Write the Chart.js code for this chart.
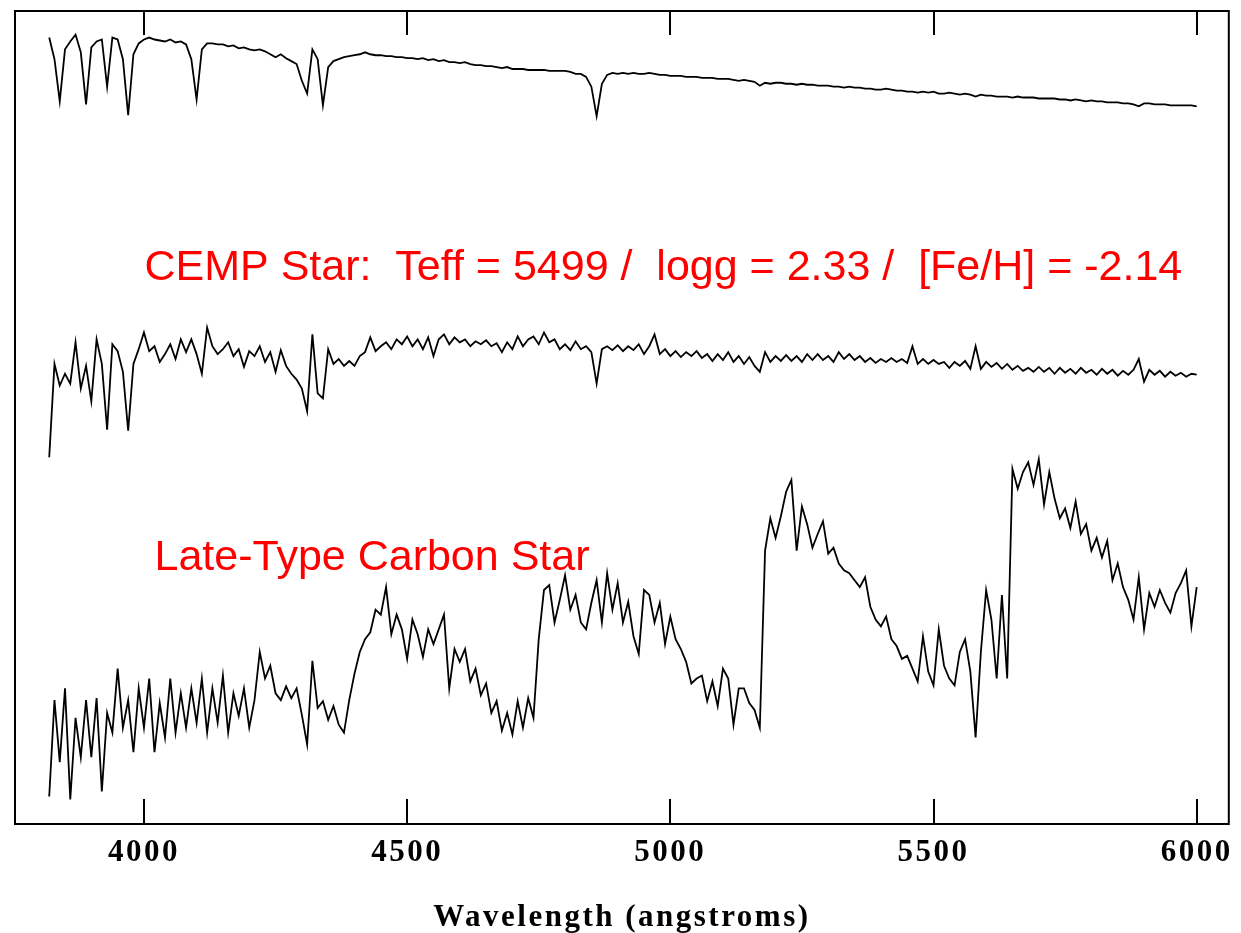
<!DOCTYPE html>
<html>
<head>
<meta charset="utf-8">
<script src="https://cdn.jsdelivr.net/npm/chart.js@4.4.1/dist/chart.umd.min.js"></script>
<style>
html,body{margin:0;padding:0;background:#fff;}
#wrap{width:1241px;height:933px;}
</style>
</head>
<body>
<div id="wrap"><canvas id="c" width="1241" height="933"></canvas></div>
<script>
// Wavelength grid of the spectra (Å): start value and sampling step
const lambdaStart = 3820;
const lambdaStep = 10;

// X axis
const xMin = 3755, xMax = 6061;
const tickValues = [4000, 4500, 5000, 5500, 6000];
const tickLabels = ['4000', '4500', '5000', '5500', '6000'];
const xTitle = 'Wavelength (angstroms)';

// Y axis (relative flux + vertical offset, arbitrary units)
const yMin = 0, yMax = 827;

// Top spectrum (hot comparison star)
const hotStar = [
800,778,735,788,796,803,785,732,790,796,
798,750,800,798,778,721,783,794,798,800,
798,797,796,798,795,796,793,778,737,788,
794,794,793,793,791,792,789,790,788,787,
788,786,783,780,783,779,776,773,756,743,
788,778,731,770,776,778,780,781,782,783,
785,783,782,782,781,781,780,780,779,779,
778,779,777,778,776,777,775,775,774,775,
773,772,772,771,771,770,769,770,768,768,
768,767,767,767,767,766,766,766,766,765,
763,763,760,750,720,753,762,764,763,764,
763,764,763,763,764,763,762,762,761,761,
761,760,760,760,759,759,759,758,758,758,
757,756,757,756,755,751,754,753,754,754,
753,753,752,753,752,752,751,751,751,750,
750,749,750,749,749,748,748,747,747,748,
747,746,746,745,745,744,745,744,745,743,
743,744,743,742,743,742,740,742,741,741,
740,740,740,739,740,739,739,739,738,738,
738,738,737,737,736,737,736,735,736,735,
735,734,734,734,733,733,732,730,733,733,
732,732,732,731,731,731,731,731,730
];

// Middle spectrum (CEMP star)
const cempStar = [
373,468,446,458,448,490,443,466,430,493,
468,401,488,481,460,400,468,483,500,481,
486,470,478,488,473,493,480,493,478,458,
505,486,478,483,490,476,483,465,481,476,
486,470,480,460,482,466,458,452,443,420,
498,438,433,483,468,473,466,471,466,476,
480,495,481,486,490,483,493,488,496,486,
493,483,495,476,493,498,488,495,490,493,
486,491,488,492,486,489,480,490,483,496,
486,493,496,488,500,490,493,483,488,482,
491,483,486,480,448,483,486,482,487,481,
486,482,488,478,486,498,478,483,476,481,
475,480,476,481,474,478,471,478,472,480,
470,476,468,475,466,460,480,470,476,471,
477,471,476,470,478,472,478,472,476,470,
480,473,478,472,476,470,474,469,473,470,
474,470,473,469,486,468,473,468,472,468,
470,464,470,466,471,463,486,463,470,465,
469,463,468,462,466,461,464,460,465,460,
464,458,464,459,463,458,464,459,462,457,
463,458,462,456,461,457,462,473,450,462,
457,461,455,460,456,459,455,458,457
];

// Bottom spectrum (late-type carbon star)
const carbonStar = [
28,126,63,138,25,108,68,126,68,128,
33,113,93,158,98,126,73,138,98,148,
73,123,88,148,93,133,98,138,103,148,
93,138,103,151,93,133,110,138,98,126,
175,148,161,133,126,140,128,138,111,81,
166,118,125,106,120,101,93,126,153,175,
188,195,218,213,241,193,213,198,168,208,
193,170,198,183,198,213,138,178,165,178,
145,158,131,143,113,125,95,113,91,125,
98,128,108,188,238,243,205,228,253,218,
233,205,198,225,248,205,255,218,245,205,
226,191,173,238,233,205,225,183,211,188,
178,165,143,148,151,125,145,120,158,148,
101,138,138,123,116,98,278,311,291,313,
338,350,278,323,305,281,295,308,275,281,
265,258,255,248,241,251,221,208,201,211,
188,181,168,171,158,145,191,155,141,198,
161,148,141,175,188,155,88,175,238,208,
148,233,148,361,341,358,368,345,371,325,
358,331,311,321,301,328,295,305,278,291,
271,288,248,265,241,228,208,251,198,235,
221,238,225,215,235,245,258,201,241
];

// Red annotations, anchored in data coordinates (wavelength, flux)
const annotationTexts = ['CEMP Star:  Teff = 5499 /  logg = 2.33 /  [Fe/H] = -2.14', 'Late-Type Carbon Star'];
const annotationX = [4001, 4020];
const annotationY = [553, 258];

function toPoints(arr) {
  return arr.map((v, i) => ({ x: lambdaStart + i * lambdaStep, y: v }));
}

const lineStyle = { borderColor: '#000', borderWidth: 1.8, pointRadius: 0, tension: 0, fill: false };

const spacingPlugin = {
  id: 'spacing',
  beforeDraw(chart) { chart.ctx.letterSpacing = '2.5px'; },
  beforeDatasetsDraw(chart) { chart.ctx.letterSpacing = '0px'; }
};

const framePlugin = {
  id: 'frame',
  afterDatasetsDraw(chart) {
    const ctx = chart.ctx;
    const { left, right, top, bottom } = chart.chartArea;
    const xs = chart.scales.x;
    ctx.save();
    ctx.strokeStyle = '#000';
    ctx.lineWidth = 2;
    ctx.strokeRect(left, top, right - left, bottom - top);
    ctx.beginPath();
    tickValues.forEach(v => {
      const px = Math.round(xs.getPixelForValue(v));
      ctx.moveTo(px, bottom); ctx.lineTo(px, bottom - 25);
      ctx.moveTo(px, top); ctx.lineTo(px, top + 24);
    });
    ctx.stroke();
    // annotations
    ctx.letterSpacing = '0px';
    ctx.fillStyle = '#ff0000';
    ctx.font = '43px "Liberation Sans", Arial, sans-serif';
    ctx.textAlign = 'left';
    ctx.textBaseline = 'alphabetic';
    const ys = chart.scales.y;
    annotationTexts.forEach((t, i) => {
      ctx.fillText(t, xs.getPixelForValue(annotationX[i]), ys.getPixelForValue(annotationY[i]));
    });
    ctx.restore();
  }
};

new Chart(document.getElementById('c'), {
  type: 'line',
  data: {
    datasets: [
      Object.assign({ label: 'Hot star', data: toPoints(hotStar) }, lineStyle),
      Object.assign({ label: 'CEMP star', data: toPoints(cempStar) }, lineStyle),
      Object.assign({ label: 'Carbon star', data: toPoints(carbonStar) }, lineStyle)
    ]
  },
  options: {
    responsive: false,
    animation: false,
    devicePixelRatio: 1,
    parsing: false,
    normalized: true,
    layout: { padding: { left: 15, right: 12, top: 11, bottom: 0 } },
    plugins: { legend: { display: false }, tooltip: { enabled: false } },
    scales: {
      x: {
        type: 'linear',
        min: xMin,
        max: xMax,
        afterBuildTicks: (s) => { s.ticks = tickValues.map(v => ({ value: v })); },
        grid: { display: false, drawTicks: false },
        border: { display: false },
        ticks: {
          autoSkip: false,
          maxRotation: 0,
          minRotation: 0,
          padding: 13,
          color: '#000',
          font: { family: '"Liberation Serif", serif', size: 31, weight: 'bold', lineHeight: 1 },
          callback: (v) => { const k = tickValues.indexOf(v); return k >= 0 ? tickLabels[k] : ''; }
        },
        title: {
          display: true,
          text: xTitle,
          color: '#000',
          font: { family: '"Liberation Serif", serif', size: 31, weight: 'bold', lineHeight: 1 },
          padding: { top: 21, bottom: 0 }
        }
      },
      y: { display: false, min: yMin, max: yMax }
    }
  },
  plugins: [spacingPlugin, framePlugin]
});
</script>
</body>
</html>
